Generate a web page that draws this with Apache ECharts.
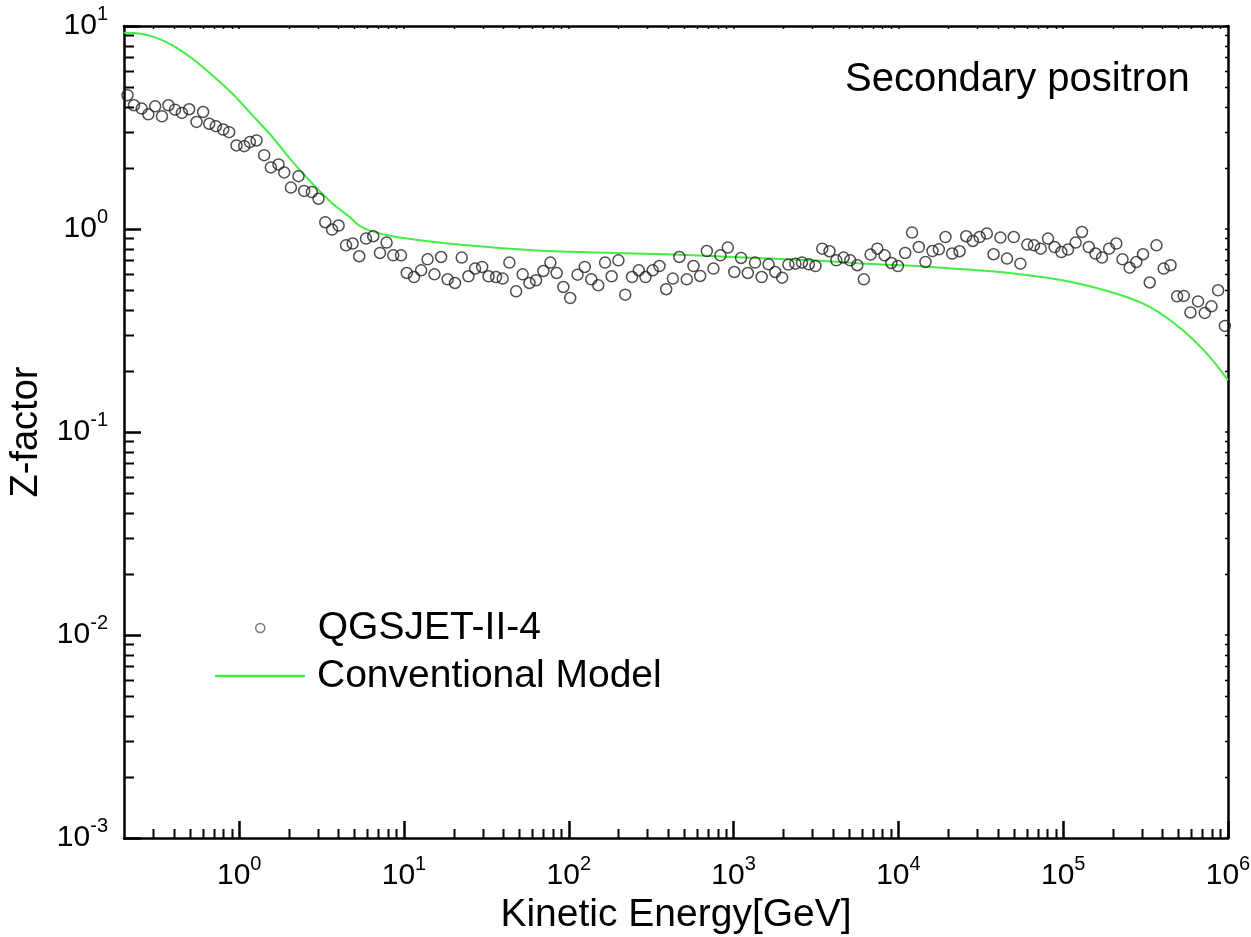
<!DOCTYPE html>
<html><head><meta charset="utf-8">
<script src="https://cdn.jsdelivr.net/npm/echarts@6/dist/echarts.min.js"></script>
<style>html,body{margin:0;padding:0;background:#fff}#chart{width:1251px;height:937px}</style>
</head><body><div id="chart"></div>
<script>
// QGSJET-II-4 points: kinetic energy [GeV] and Z-factor
const energyGeV = [0.210,0.230,0.256,0.281,0.309,0.340,0.372,0.408,0.449,0.497,0.551,0.604,0.658,0.722,0.800,0.869,0.963,1.073,1.161,1.274,1.418,1.557,1.732,1.876,2.06,2.29,2.48,2.76,3.03,3.33,3.66,4.01,4.45,4.88,5.35,5.88,6.51,7.15,7.84,8.61,9.59,10.4,11.5,
12.7,13.9,15.3,16.8,18.4,20.4,22.4,24.6,27.0,29.8,32.6,36.2,39.7,43.6,47.9,52.5,57.7,63.3,70.1,77.3,84.4,92.7,102,113,125,137,151,166,182,200,220,242,266,292,323,355,390,428,469,520,571,627,688,755,832,922,1010,1110,1220,1350,1480,1630,1790,1970,2150,2370,2600,2860,3140,
3450,3820,4200,4650,5100,5630,6170,6780,7450,8250,9060,9930,11000,12100,13300,14600,16100,17600,19300,21200,23500,25800,28300,31100,34400,37800,41600,45600,50100,55000,60600,66500,73000,80900,88700,97500,107000,119000,130000,143000,157000,172000,190000,210000,229000,253000,278000,305000,335000,368000,407000,448000,491000,539000,592000,658000,723000,794000,871000,957000];
const zQGSJET = [4.56,4.07,3.92,3.67,4.02,3.59,4.07,3.87,3.73,3.89,3.37,3.77,3.30,3.21,3.09,3.00,2.58,2.56,2.68,2.73,2.31,2.01,2.08,1.90,1.60,1.82,1.54,1.52,1.41,1.08,0.993,1.04,0.831,0.848,0.734,0.897,0.921,0.762,0.857,0.742,0.742,0.607,0.580,
0.626,0.709,0.598,0.728,0.565,0.542,0.723,0.585,0.638,0.650,0.585,0.580,0.570,0.683,0.493,0.598,0.542,0.559,0.621,0.683,0.607,0.518,0.457,0.596,0.650,0.565,0.528,0.683,0.585,0.701,0.475,0.580,0.626,0.580,0.626,0.657,0.505,0.570,0.728,0.565,0.657,0.587,0.779,0.638,0.742,0.810,0.614,0.720,0.607,0.683,0.580,0.670,0.614,0.576,0.668,0.675,0.683,0.670,0.657,
0.800,0.777,0.701,0.723,0.701,0.663,0.565,0.748,0.800,0.742,0.680,0.657,0.762,0.960,0.815,0.688,0.779,0.794,0.913,0.757,0.777,0.921,0.873,0.913,0.949,0.751,0.907,0.715,0.913,0.675,0.838,0.831,0.800,0.897,0.815,0.770,0.792,0.857,0.967,0.815,0.757,0.723,0.800,0.848,0.709,0.645,0.688,0.751,0.545,0.831,0.638,0.663,0.466,0.468,0.388,0.440,0.386,0.416,0.499,0.333];

// Conventional model curve
const modelEnergyGeV = [0.2,0.247,0.312,0.394,0.521,0.689,0.911,1.205,1.59,2.11,2.79,3.69,4.66,5.35,6.15,8.53,12.4,23.9,60,153,389,980,3170,6400,16000,41000,104000,211000,335000,532000,777000,1000000];
const zModel = [9.27,9.18,8.77,8.03,6.90,5.71,4.64,3.63,2.84,2.14,1.67,1.33,1.15,1.04,0.985,0.92,0.88,0.831,0.786,0.765,0.75,0.728,0.70,0.675,0.65,0.614,0.555,0.48,0.413,0.317,0.234,0.18];

// axis ranges and tick positions
const X_MIN = 0.2, X_MAX = 1e6, Y_MIN = 0.001, Y_MAX = 10;
const minorMultipliers = [2,3,4,5,6,7,8,9];
const xDecades = [0.1,1,10,100,1000,10000,100000];
const yDecades = [0.001,0.01,0.1,1];

const FONT = 'Liberation Sans, Arial, sans-serif';
const xMinor = [];
xDecades.forEach(d => minorMultipliers.forEach(m => { const v = d*m; if (v > X_MIN*1.0001 && v < X_MAX) xMinor.push([v, Y_MIN]); }));
const yMinor = [];
yDecades.forEach(d => minorMultipliers.forEach(m => { const v = d*m; if (v > Y_MIN && v < Y_MAX) yMinor.push([X_MIN, v]); }));

const scatterData = energyGeV.map((e, i) => [e, zQGSJET[i]]);
const modelData = modelEnergyGeV.map((e, i) => [e, zModel[i]]);

function powLabel(v) {
  const e = Math.round(Math.log10(v));
  return '{b|10}{s|' + e + '}';
}
const richLabel = {
  b: { fontSize: 30, lineHeight: 44, fontFamily: FONT, color: '#000' },
  s: { fontSize: 20, lineHeight: 20, verticalAlign: 'top', fontFamily: FONT, color: '#000' }
};
const axisLineStyle = { color: '#000', width: 2.5 };
const GREEN = '#44ee44';

const chart = echarts.init(document.getElementById('chart'), null, { renderer: 'canvas' });
chart.setOption({
  animation: false,
  backgroundColor: '#fff',
  grid: { left: 124, right: 23, top: 26, bottom: 99, containLabel: false, outerBoundsMode: 'none' },
  graphic: [{
    type: 'text', left: 845, top: 60, silent: true,
    style: { text: 'Secondary positron', font: '40px ' + FONT, fill: '#000' }
  }],
  legend: [{
    data: ['QGSJET-II-4'], left: 255, top: 608, orient: 'vertical', padding: 0,
    itemWidth: 9, itemHeight: 9, icon: 'circle',
    itemStyle: { color: '#fff', borderColor: '#555', borderWidth: 1.5 },
    textStyle: { fontSize: 39, fontFamily: FONT, color: '#000', lineHeight: 40, padding: [0, 0, 0, 48] }
  }, {
    data: ['Conventional Model'], left: 215, top: 648, orient: 'vertical', padding: 0,
    itemWidth: 90, itemHeight: 2.5, icon: 'rect',
    itemStyle: { color: GREEN, borderWidth: 0 },
    textStyle: { fontSize: 39, fontFamily: FONT, color: '#000', lineHeight: 40, padding: [0, 0, 16, 7] }
  }],
  xAxis: [{
    type: 'log', logBase: 10, min: X_MIN, max: X_MAX, position: 'bottom',
    name: 'Kinetic Energy[GeV]', nameLocation: 'middle', nameGap: 55,
    nameTextStyle: { fontSize: 39, fontFamily: FONT, color: '#000' },
    axisLine: { show: true, onZero: false, lineStyle: axisLineStyle },
    axisTick: { show: true, inside: true, length: 17, lineStyle: { color: '#000', width: 2.5 } },
    axisLabel: { margin: 16, showMinLabel: false, formatter: powLabel, rich: richLabel },
    splitLine: { show: false }, minorTick: { show: false }
  }, {
    type: 'log', logBase: 10, min: X_MIN, max: X_MAX, position: 'top',
    axisLine: { show: true, onZero: false, lineStyle: axisLineStyle },
    axisTick: { show: true, inside: true, length: 3, lineStyle: { color: '#000', width: 1.5 } },
    axisLabel: { show: false }, splitLine: { show: false }
  }],
  yAxis: [{
    type: 'log', logBase: 10, min: Y_MIN, max: Y_MAX, position: 'left',
    name: 'Z-factor', nameLocation: 'middle', nameGap: 72,
    nameTextStyle: { fontSize: 38, fontFamily: FONT, color: '#000' },
    axisLine: { show: true, onZero: false, lineStyle: axisLineStyle },
    axisTick: { show: true, inside: true, length: 17, lineStyle: { color: '#000', width: 2.5 } },
    axisLabel: { margin: 16, formatter: powLabel, rich: richLabel },
    splitLine: { show: false }
  }, {
    type: 'log', logBase: 10, min: Y_MIN, max: Y_MAX, position: 'right',
    axisLine: { show: true, onZero: false, lineStyle: axisLineStyle },
    axisTick: { show: true, inside: true, length: 3, lineStyle: { color: '#000', width: 1.5 } },
    axisLabel: { show: false }, splitLine: { show: false }
  }],
  series: [{
    name: 'QGSJET-II-4', type: 'scatter', xAxisIndex: 0, yAxisIndex: 0,
    data: scatterData, symbol: 'circle', symbolSize: 11, z: 3,
    itemStyle: { color: 'rgba(255,255,255,0)', borderColor: '#222', borderWidth: 1.5 },
    emphasis: { disabled: true }
  }, {
    name: 'Conventional Model', type: 'line', xAxisIndex: 0, yAxisIndex: 0,
    data: modelData, symbol: 'none', showSymbol: false, smooth: 0.3, z: 2,
    lineStyle: { color: GREEN, width: 2 }, itemStyle: { color: GREEN },
    emphasis: { disabled: true }
  }, {
    name: 'xMinorTicks', type: 'custom', xAxisIndex: 0, yAxisIndex: 0, silent: true, clip: false, z: 5,
    data: xMinor,
    renderItem: (params, api) => {
      const v = api.value(0);
      const b = api.coord([v, Y_MIN]);
      const t = api.coord([v, Y_MAX]);
      const x = Math.round(b[0]) + 0.5;
      return { type: 'group', children: [
        { type: 'line', shape: { x1: x, y1: b[1], x2: x, y2: b[1] - 9 }, style: { stroke: '#000', lineWidth: 2 } },
        { type: 'line', shape: { x1: x, y1: t[1], x2: x, y2: t[1] + 3 }, style: { stroke: '#000', lineWidth: 1.5 } }
      ]};
    }
  }, {
    name: 'yMinorTicks', type: 'custom', xAxisIndex: 0, yAxisIndex: 0, silent: true, clip: false, z: 5,
    data: yMinor,
    renderItem: (params, api) => {
      const v = api.value(1);
      const l = api.coord([X_MIN, v]);
      const r = api.coord([X_MAX, v]);
      const y = Math.round(l[1]) + 0.5;
      return { type: 'group', children: [
        { type: 'line', shape: { x1: l[0], y1: y, x2: l[0] + 10, y2: y }, style: { stroke: '#000', lineWidth: 2 } },
        { type: 'line', shape: { x1: r[0], y1: y, x2: r[0] - 3, y2: y }, style: { stroke: '#000', lineWidth: 1.5 } }
      ]};
    }
  }]
});
</script>
</body></html>
